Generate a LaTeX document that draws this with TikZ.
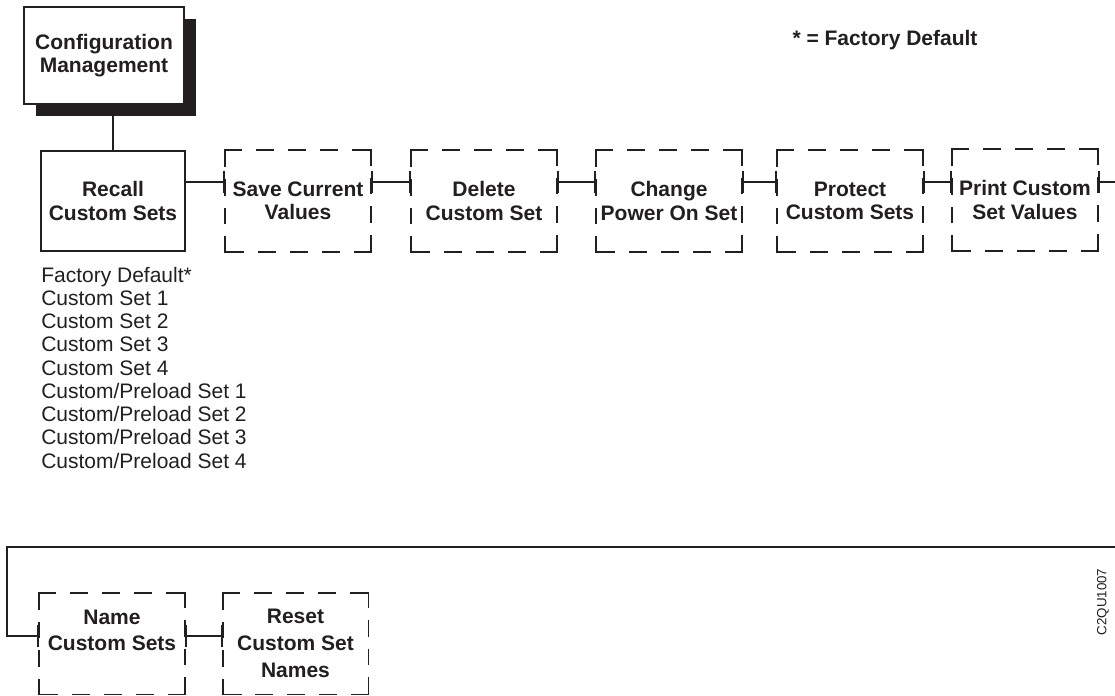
\documentclass[tikz,border=0pt]{standalone}
\usepackage{fontspec}
\setmainfont{Liberation Sans}
\usetikzlibrary{arrows.meta,shadows}

\definecolor{ink}{RGB}{35,31,32}
\tikzset{
  menu/.style={draw=ink, line width=1.4pt, fill=white, align=center, text=ink,
    font=\fontsize{15.75}{17.5}\selectfont\bfseries, inner sep=0pt,
    minimum width=108pt, minimum height=75pt},
  side/.style={draw=ink, line width=1.4pt, shorten <=-0.7pt, shorten >=-0.7pt},
  hside/.style={side, dash pattern=on 13.5pt off 10.475pt},
  vside/.style={side, dash pattern=on 12.35pt off 9pt},
  optbox/.style={menu, draw=none, append after command={
    (\tikzlastnode.south west) edge[vside] (\tikzlastnode.north west)
    (\tikzlastnode.north west) edge[hside] (\tikzlastnode.north east)
    (\tikzlastnode.north east) edge[vside] (\tikzlastnode.south east)
    (\tikzlastnode.south east) edge[hside] (\tikzlastnode.south west)}},
  lowbox/.style={optbox, font=\fontsize{15.75}{20}\selectfont\bfseries},
  link/.style={draw=ink, line width=1.4pt},
  listitem/.style={anchor=base west, inner sep=0pt, text=ink,
    font=\fontsize{15.75}{17.5}\selectfont},
}

\begin{document}
\begin{tikzpicture}[x=0.75pt, y=-0.75pt]
  \useasboundingbox (0,0) rectangle (1115,696);

  % top of the tree
  \node[menu, minimum width=120pt, minimum height=72.75pt,
    drop shadow={shadow xshift=9pt, shadow yshift=-9pt, fill=ink, opacity=1}]
    (config) at (104,55.5) {Configuration\\Management};
  \node[text=ink, font=\fontsize{15.75}{17.5}\selectfont\bfseries] (legend) at (885,40) {* = Factory Default};

  % first row
  \node[menu] (recall) at (113,201) {Recall\\Custom Sets};
  \node[optbox] (save) at (298,201) {Save Current\\Values};
  \node[optbox] (delete) at (484,201) {Delete\\Custom Set};
  \node[optbox] (change) at (669,201) {Change\\Power On Set};
  \node[optbox] (protect) at (850,201) {Protect\\Custom Sets};
  \node[optbox] (print) at (1025,200) {Print Custom\\Set Values};

  \foreach \setname [count=\i from 0] in {Factory Default*, Custom Set 1, Custom Set 2,
      Custom Set 3, Custom Set 4, Custom/Preload Set 1, Custom/Preload Set 2,
      Custom/Preload Set 3, Custom/Preload Set 4}
    \node[listitem] (set\i) at (41,{282+23.25*\i}) {\setname};

  % second row
  \node[lowbox] (name) at (112,643.5) {Name\\Custom Sets\\~};
  \node[lowbox] (reset) at (295.5,643.5) {Reset\\Custom Set\\Names};

  \node[rotate=90, text=ink, font=\fontsize{10}{12}\selectfont] (code) at (1103,602) {C2QU1007};

  \coordinate (row1) at (0,182);
  \coordinate (row2) at (0,636);
  \coordinate (wrapR) at (1115,547);
  \coordinate (wrapL) at (7,547);

  \draw[link] (recall.north) -- (config.south -| recall.north);
  \draw[link, -{Bar[width=17pt]}] (recall.east |- row1) -- (save.west |- row1);
  \draw[link, {Bar[width=17pt]}-{Bar[width=17pt]}] (save.east |- row1) -- (delete.west |- row1);
  \draw[link, {Bar[width=17pt]}-{Bar[width=17pt]}] (delete.east |- row1) -- (change.west |- row1);
  \draw[link, {Bar[width=17pt]}-{Bar[width=17pt]}] (change.east |- row1) -- (protect.west |- row1);
  \draw[link, {Bar[width=17pt]}-{Bar[width=17pt]}] (protect.east |- row1) -- (print.west |- row1);
  \draw[link, {Bar[width=17pt]}-] (print.east |- row1) -- (wrapR |- row1);
  \draw[link, -{Bar[width=17pt]}] (wrapR) -- (wrapL) |- (name.west |- row2);
  \draw[link, {Bar[width=17pt]}-{Bar[width=17pt]}] (name.east |- row2) -- (reset.west |- row2);
\end{tikzpicture}
\end{document}
